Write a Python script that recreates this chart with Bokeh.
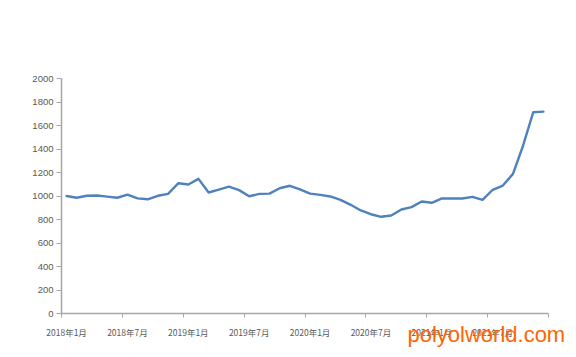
from bokeh.plotting import figure
from bokeh.models import FixedTicker, Range1d, Label
from bokeh.embed import file_html
from bokeh.resources import INLINE

# Monthly values, Jan 2018 .. Dec 2021
months = [f"{y}年{m}月" for y in range(2018, 2022) for m in range(1, 13)]
values = [1000, 985, 1002, 1004, 995, 985, 1012, 980, 972, 1002,
          1018, 1108, 1098, 1146, 1030, 1055, 1080, 1050, 998, 1018,
          1020, 1066, 1087, 1057, 1020, 1010, 996, 967, 925, 877,
          845, 823, 834, 885, 905, 953, 942, 979, 979, 979,
          993, 967, 1053, 1089, 1188, 1430, 1713, 1718]
tick_months = [0, 6, 12, 18, 24, 30, 36, 42]
y_ticks = [0, 200, 400, 600, 800, 1000, 1200, 1400, 1600, 1800, 2000]
watermark = "polyolworld.com"

n = len(values)
xs = [i + 0.5 for i in range(n)]

# plot area in pixels: x 61..548, y 78..313 (0..2000)
px_per_month = (548 - 61) / n
x_lo = -61 / px_per_month
x_hi = n + (576 - 548) / px_per_month
px_per_unit = (313 - 78) / 2000
frame_top = 60
y_hi = 2000 + (78 - frame_top) / px_per_unit
y_lo = -(357 - 313) / px_per_unit

p = figure(width=576, height=357, output_backend="svg", toolbar_location=None,
           x_range=Range1d(x_lo, x_hi), y_range=Range1d(y_lo, y_hi),
           min_border_left=0, min_border_right=0, min_border_top=frame_top, min_border_bottom=0)
p.outline_line_color = None
p.background_fill_color = "white"
p.border_fill_color = "white"
p.xgrid.visible = False
p.ygrid.visible = False

p.line(xs, values, line_color="#4F81BD", line_width=2.4, line_join="round", line_cap="round")

axis_color = "#a6a6a6"
label_color = "#595959"

p.xaxis.fixed_location = 0
p.xaxis.bounds = (0, n)
p.xaxis.ticker = FixedTicker(ticks=[t + 0.5 for t in tick_months],
                             minor_ticks=tick_months + [n])
p.xaxis.major_label_overrides = {t + 0.5: months[t] for t in tick_months}
p.xaxis.major_tick_line_color = None
p.xaxis.major_tick_out = 0
p.xaxis.major_tick_in = 0
p.xaxis.minor_tick_line_color = axis_color
p.xaxis.minor_tick_out = 4
p.xaxis.minor_tick_in = 0
p.xaxis.axis_line_color = axis_color
p.xaxis.axis_line_width = 1.5
p.xaxis.major_label_text_font = "Noto Sans CJK SC"
p.xaxis.major_label_text_font_size = "8.5px"
p.xaxis.major_label_text_color = label_color
p.xaxis.major_label_standoff = 8

p.yaxis.fixed_location = 0
p.yaxis.bounds = (0, 2000)
p.yaxis.ticker = FixedTicker(ticks=y_ticks, minor_ticks=[])
p.yaxis.major_tick_line_color = axis_color
p.yaxis.major_tick_out = 5
p.yaxis.major_tick_in = 0
p.yaxis.axis_line_color = axis_color
p.yaxis.axis_line_width = 1.5
p.yaxis.major_label_text_font = "Liberation Sans"
p.yaxis.major_label_text_font_size = "9.5px"
p.yaxis.major_label_text_color = label_color
p.yaxis.major_label_standoff = 3

wm = Label(x=34.1, y=-180, text=watermark, text_color="#ff6600",
           text_font="Liberation Sans", text_font_size="22px",
           text_baseline="middle", text_align="left")
p.add_layout(wm)

open("out.html", "w").write(file_html(p, INLINE))
